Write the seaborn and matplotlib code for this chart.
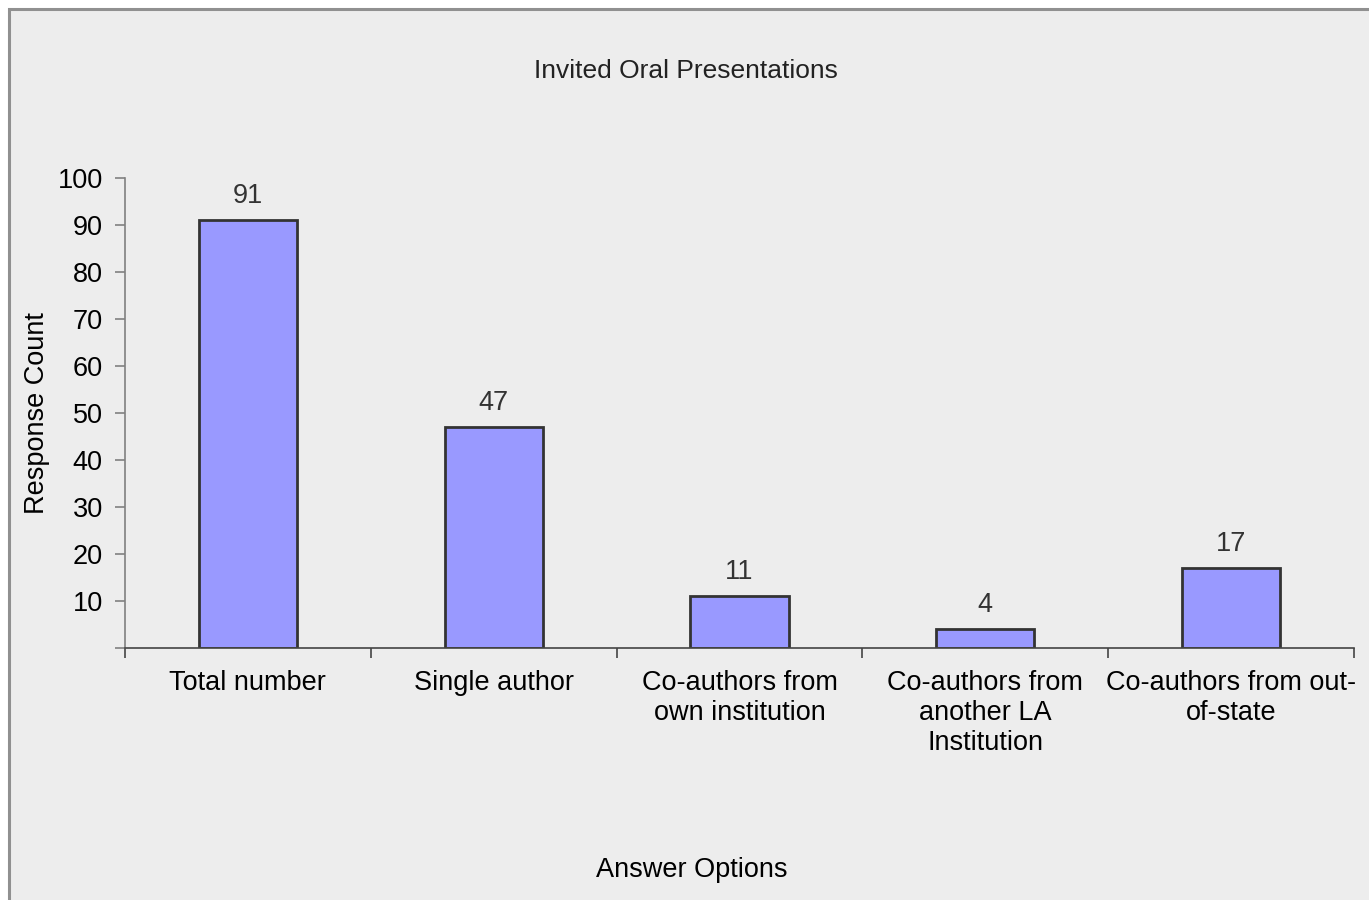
import matplotlib
matplotlib.use("Agg")
import matplotlib.pyplot as plt
from matplotlib.patches import Rectangle
import pandas as pd
import seaborn as sns

categories = ["Total number", "Single author", "Co-authors from\nown institution",
              "Co-authors from\nanother LA\nInstitution", "Co-authors from out-\nof-state"]
counts = [91, 47, 11, 4, 17]
y_ticks = [0, 10, 20, 30, 40, 50, 60, 70, 80, 90, 100]

bg = "#EDEDED"
sns.set_style("white")
plt.rcParams["font.family"] = ["Liberation Sans", "DejaVu Sans"]

df = pd.DataFrame({"option": categories, "count": counts})

fig = plt.figure(figsize=(13.69, 9), dpi=100, facecolor="white")
# grey panel with border only on left/top (image is cropped on the other sides)
fig.patches.append(Rectangle((9 / 1369, -0.1), 1.1, 1.1 - 9 / 900,
                             transform=fig.transFigure, facecolor=bg,
                             edgecolor="#909090", linewidth=2.2, zorder=-10))
ax = fig.add_axes([125 / 1369, 1 - 648 / 900, (1354 - 125) / 1369, (648 - 178) / 900])
ax.set_facecolor(bg)

sns.barplot(data=df, x="option", y="count", ax=ax, color="#9999FF",
            width=0.4, edgecolor="#333333", linewidth=2, saturation=1)
for p in ax.patches:
    p.set_facecolor("#9999FF")
ax.bar_label(ax.containers[0], padding=8, fontsize=19.5, color="#333333")

ax.set_xlim(-0.5, len(categories) - 0.5)
ax.set_ylim(0, 100)
ax.set_yticks(y_ticks)
ax.set_yticklabels([""] + [str(v) for v in y_ticks[1:]], fontsize=19.5, color="black")
ax.set_xticks(range(len(categories)))
ax.set_xticklabels(categories, fontsize=19.5, linespacing=1.2, color="black")
ax.set_xticks([i - 0.5 for i in range(len(categories) + 1)], minor=True)
ax.tick_params(axis="x", which="major", bottom=True, length=0, pad=16)
ax.tick_params(axis="x", which="minor", bottom=True, length=7, width=1.2, color="#444444")
ax.tick_params(axis="y", left=True, length=7, width=1.2, color="#808080", pad=9)

for s in ["top", "right"]:
    ax.spines[s].set_visible(False)
ax.spines["left"].set_color("#808080")
ax.spines["left"].set_linewidth(1.2)
ax.spines["bottom"].set_color("#444444")
ax.spines["bottom"].set_linewidth(1.2)

ax.set_xlabel("")
ax.set_ylabel("")
fig.text(37 / 1369, 1 - 413 / 900, "Response Count", rotation=90, fontsize=19.5,
         ha="center", va="center", color="black")
fig.text(692 / 1369, 1 - 870 / 900, "Answer Options", fontsize=19.5,
         ha="center", va="center", color="black")
fig.text(686 / 1369, 1 - 71 / 900, "Invited Oral Presentations", fontsize=19,
         ha="center", va="center", color="#222222")

fig.savefig("out.png", dpi=100, facecolor="white")
